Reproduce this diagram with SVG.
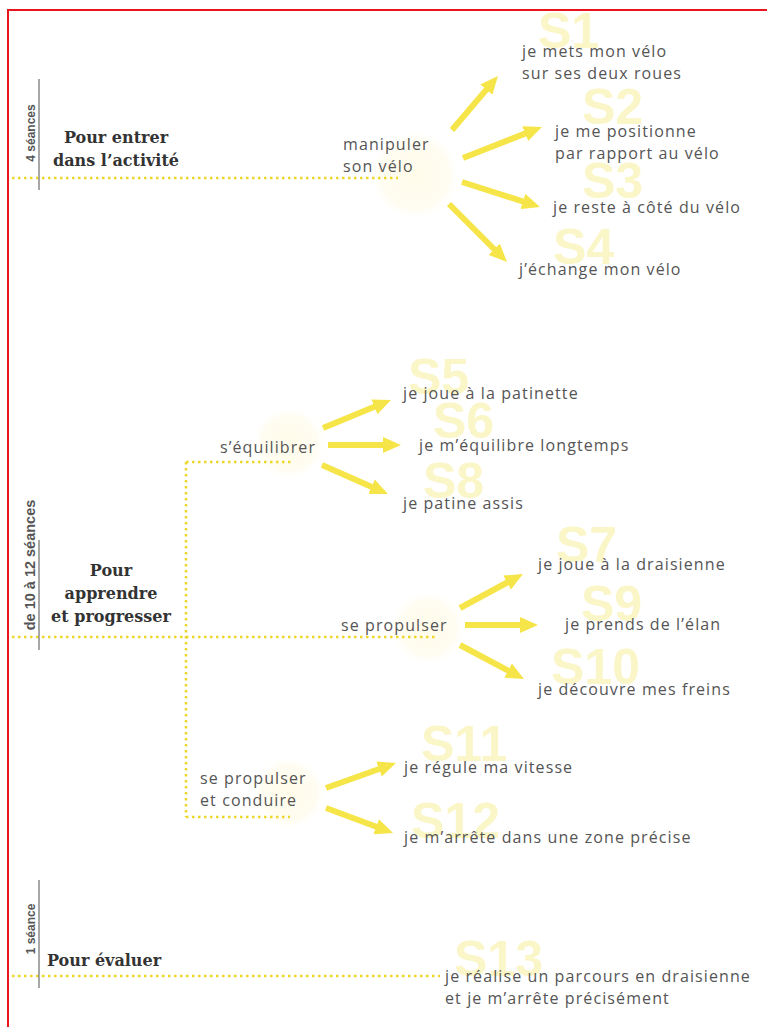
<svg xmlns="http://www.w3.org/2000/svg" width="767" height="1027" viewBox="0 0 767 1027">
<style>
.bg{fill:#ffffff}
.frame{stroke:#e8141e;stroke-width:2;fill:none}
.title{font-family:"DejaVu Serif","Liberation Serif",serif;font-weight:bold;font-size:16px;fill:#333}
.rot{font-family:"Liberation Sans","DejaVu Sans",sans-serif;font-weight:bold;font-size:12px;fill:#555}
.rot.long{font-size:14.5px}
.bar{stroke:#8a8a8a;stroke-width:1.5}
.lbl{font-family:"Open Sans","Noto Sans",sans-serif;font-size:16px;letter-spacing:1.1px;fill:#555}
.snum{font-family:"Liberation Sans","DejaVu Sans",sans-serif;font-weight:bold;font-size:50px;fill:#f8ef9a;opacity:0.55}
.dot{stroke:#ecd72a;stroke-width:2.5;stroke-dasharray:2.5 3.5;fill:none}
.arr{stroke:#f6e548;stroke-width:6;fill:none;marker-end:url(#head)}
.glow{fill:url(#gl)}
</style>
<defs>
<marker id="head" markerUnits="userSpaceOnUse" markerWidth="18" markerHeight="16" viewBox="0 0 18 16" refX="6" refY="8" orient="auto">
<path d="M0,0 L18,8 L0,16 z" fill="#f6e548"/>
</marker>
<radialGradient id="gl">
<stop offset="0" stop-color="#fffcea" stop-opacity="1"/>
<stop offset="0.75" stop-color="#fffcec" stop-opacity="0.7"/>
<stop offset="1" stop-color="#ffffff" stop-opacity="0"/>
</radialGradient>
</defs>
<rect class="bg" x="0" y="0" width="767" height="1027"/>
<path class="frame" d="M8,1027 L8,10 L767,10"/>

<g id="snums">
<text class="snum" x="538" y="48">S1</text>
<text class="snum" x="582" y="124">S2</text>
<text class="snum" x="582" y="198">S3</text>
<text class="snum" x="553" y="264">S4</text>
<text class="snum" x="408" y="394">S5</text>
<text class="snum" x="433" y="438">S6</text>
<text class="snum" x="423" y="498">S8</text>
<text class="snum" x="556" y="562">S7</text>
<text class="snum" x="581" y="621">S9</text>
<text class="snum" x="551" y="684">S10</text>
<text class="snum" x="421" y="761">S11</text>
<text class="snum" x="411" y="838">S12</text>
<text class="snum" x="454" y="976">S13</text>
</g>

<g id="glows">
<circle class="glow" cx="415" cy="175" r="46"/>
<circle class="glow" cx="289" cy="443" r="37"/>
<circle class="glow" cx="428" cy="628" r="38"/>
<circle class="glow" cx="289" cy="793" r="37"/>
</g>

<g id="connectors">
<line class="dot" x1="12" y1="178" x2="398" y2="178"/>
<line class="dot" x1="12" y1="637" x2="437" y2="637"/>
<line class="dot" x1="186" y1="462" x2="294" y2="462"/>
<line class="dot" x1="186" y1="462" x2="186" y2="817"/>
<line class="dot" x1="186" y1="817" x2="290" y2="817"/>
<line class="dot" x1="12" y1="976" x2="440" y2="976"/>
<line class="arr" x1="452" y1="130" x2="490.2" y2="85.1"/>
<line class="arr" x1="463" y1="158" x2="530.8" y2="131.4"/>
<line class="arr" x1="462" y1="182" x2="528.6" y2="203.3"/>
<line class="arr" x1="449" y1="204" x2="498.5" y2="253.5"/>
<line class="arr" x1="323" y1="428" x2="379.9" y2="404.6"/>
<line class="arr" x1="328" y1="445" x2="389" y2="445"/>
<line class="arr" x1="322" y1="465" x2="377" y2="489.2"/>
<line class="arr" x1="460" y1="608" x2="512.4" y2="579.7"/>
<line class="arr" x1="465" y1="625" x2="526" y2="625"/>
<line class="arr" x1="460" y1="645" x2="513.4" y2="673.4"/>
<line class="arr" x1="326" y1="788" x2="384.7" y2="767"/>
<line class="arr" x1="326" y1="808" x2="381.8" y2="828.8"/>
</g>

<g id="phase1">
<line class="bar" x1="39" y1="79" x2="39" y2="190"/>
<text class="rot" transform="translate(35,133) rotate(-90)" text-anchor="middle">4 séances</text>
<text class="title" x="116" y="143" text-anchor="middle">Pour entrer</text>
<text class="title" x="116" y="166" text-anchor="middle">dans l’activité</text>
</g>
<g id="phase2">
<line class="bar" x1="39" y1="540" x2="39" y2="650"/>
<text class="rot long" transform="translate(35,565) rotate(-90)" text-anchor="middle">de 10 à 12 séances</text>
<text class="title" x="111" y="576" text-anchor="middle">Pour</text>
<text class="title" x="111" y="599" text-anchor="middle">apprendre</text>
<text class="title" x="111" y="622" text-anchor="middle">et progresser</text>
</g>
<g id="phase3">
<line class="bar" x1="39" y1="880" x2="39" y2="988"/>
<text class="rot" transform="translate(35,929) rotate(-90)" text-anchor="middle">1 séance</text>
<text class="title" x="47" y="966">Pour évaluer</text>
</g>

<g id="manipuler">
<text class="lbl" x="343" y="150">manipuler</text>
<text class="lbl" x="343" y="172">son vélo</text>
</g>
<g id="equilibrer"><text class="lbl" x="220" y="453">s’équilibrer</text></g>
<g id="propulser"><text class="lbl" x="341" y="631">se propulser</text></g>
<g id="propulser-conduire">
<text class="lbl" x="200" y="784">se propulser</text>
<text class="lbl" x="200" y="806">et conduire</text>
</g>

<g id="s1"><text class="lbl" x="522" y="57">je mets mon vélo</text><text class="lbl" x="522" y="79">sur ses deux roues</text></g>
<g id="s2"><text class="lbl" x="555" y="137">je me positionne</text><text class="lbl" x="555" y="159">par rapport au vélo</text></g>
<g id="s3"><text class="lbl" x="553" y="213">je reste à côté du vélo</text></g>
<g id="s4"><text class="lbl" x="519" y="275">j’échange mon vélo</text></g>
<g id="s5"><text class="lbl" x="403" y="399">je joue à la patinette</text></g>
<g id="s6"><text class="lbl" x="419" y="451">je m’équilibre longtemps</text></g>
<g id="s8"><text class="lbl" x="403" y="509">je patine assis</text></g>
<g id="s7"><text class="lbl" x="538" y="570">je joue à la draisienne</text></g>
<g id="s9"><text class="lbl" x="565" y="630">je prends de l’élan</text></g>
<g id="s10"><text class="lbl" x="538" y="695">je découvre mes freins</text></g>
<g id="s11"><text class="lbl" x="404" y="773">je régule ma vitesse</text></g>
<g id="s12"><text class="lbl" x="404" y="843">je m’arrête dans une zone précise</text></g>
<g id="s13"><text class="lbl" x="445" y="982">je réalise un parcours en draisienne</text><text class="lbl" x="445" y="1004">et je m’arrête précisément</text></g>
</svg>
